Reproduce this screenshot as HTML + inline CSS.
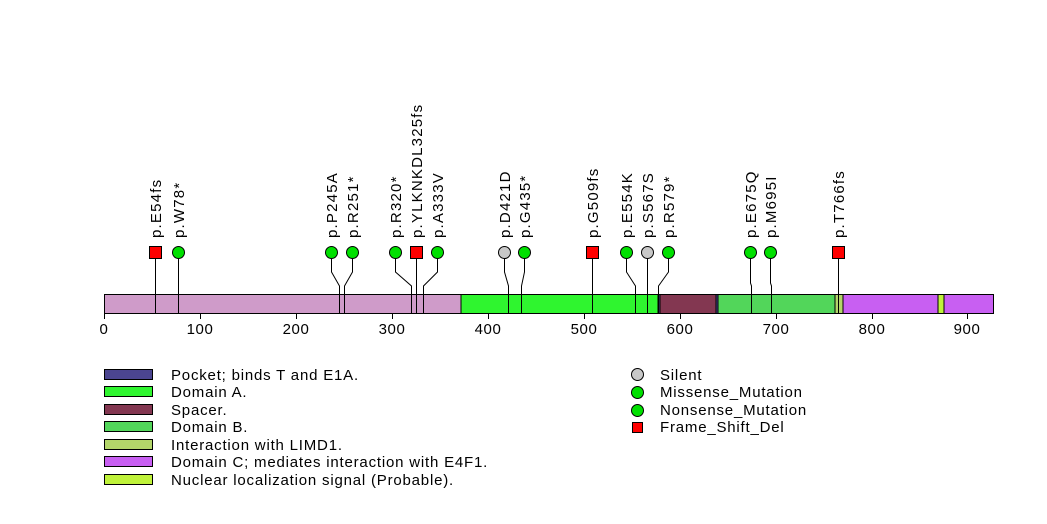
<!DOCTYPE html>
<html><head><meta charset="utf-8"><style>body{margin:0;background:#fff}svg{display:block}text{font-family:"Liberation Sans",sans-serif;fill:#000}</style></head><body>
<svg width="1047" height="524" viewBox="0 0 1047 524" xmlns="http://www.w3.org/2000/svg">
<g stroke="#000" stroke-width="1">
<rect x="104.5" y="294.5" width="889" height="19" fill="#cf9bc9"/>
<rect x="461" y="294.5" width="197" height="19" fill="#2ff52f"/>
<rect x="658" y="294.5" width="2" height="19" fill="#4b4590"/>
<rect x="660" y="294.5" width="56" height="19" fill="#833751"/>
<rect x="716" y="294.5" width="2" height="19" fill="#4b4590"/>
<rect x="718" y="294.5" width="117" height="19" fill="#52d65a"/>
<rect x="835" y="294.5" width="8" height="19" fill="#b3d66a"/>
<rect x="843" y="294.5" width="95" height="19" fill="#c85ff2"/>
<rect x="938" y="294.5" width="6" height="19" fill="#bff23a"/>
<rect x="944" y="294.5" width="49.5" height="19" fill="#c85ff2"/>
</g>
<g stroke="#000" fill="none">
<path d="M104.5 313V319M200.5 313V319M296.5 313V319M392.5 313V319M488.5 313V319M584.5 313V319M680.5 313V319M776.5 313V319M872.5 313V319M967.5 313V319"/>
<path d="M155.5 252V313M178.5 252V313M331.5 252V272L339.5 286V313M352.5 252V272L344.5 286V313M395.5 252V272L411.5 286V313M416.5 252V313M437.5 252V272L423.5 286V313M504.5 252V272L508.5 286V313M524.5 252V272L521.5 286V313M592.5 252V313M626.5 252V272L635.5 286V313M647.5 252V313M668.5 252V272L658.5 286V313M750.5 252V283L751.5 286V313M770.5 252V283L771.5 286V313M838.5 252V313"/>
</g>
<g font-size="15" text-anchor="middle" letter-spacing="0.6">
<text x="104" y="334">0</text><text x="200" y="334">100</text><text x="296" y="334">200</text><text x="392" y="334">300</text><text x="488" y="334">400</text><text x="584" y="334">500</text><text x="680" y="334">600</text><text x="776" y="334">700</text><text x="872" y="334">800</text><text x="967" y="334">900</text>
</g>
<g stroke="#000">
<rect x="149.5" y="246.5" width="12" height="12" fill="#f00"/>
<rect x="410.5" y="246.5" width="12" height="12" fill="#f00"/>
<rect x="586.5" y="246.5" width="12" height="12" fill="#f00"/>
<rect x="832.5" y="246.5" width="12" height="12" fill="#f00"/>
<g fill="#00e000"><circle cx="178.5" cy="252.5" r="6"/><circle cx="331.5" cy="252.5" r="6"/><circle cx="352.5" cy="252.5" r="6"/><circle cx="395.5" cy="252.5" r="6"/><circle cx="437.5" cy="252.5" r="6"/><circle cx="524.5" cy="252.5" r="6"/><circle cx="626.5" cy="252.5" r="6"/><circle cx="668.5" cy="252.5" r="6"/><circle cx="750.5" cy="252.5" r="6"/><circle cx="770.5" cy="252.5" r="6"/></g>
<g fill="#c8c8c8"><circle cx="504.5" cy="252.5" r="6"/><circle cx="647.5" cy="252.5" r="6"/></g>
</g>
<g font-size="15" letter-spacing="1.2">
<text transform="translate(161,238) rotate(-90)">p.E54fs</text>
<text transform="translate(184,238) rotate(-90)">p.W78*</text>
<text transform="translate(337,238) rotate(-90)">p.P245A</text>
<text transform="translate(358,238) rotate(-90)">p.R251*</text>
<text transform="translate(401,238) rotate(-90)">p.R320*</text>
<text transform="translate(422,238) rotate(-90)">p.YLKNKDL325fs</text>
<text transform="translate(443,238) rotate(-90)">p.A333V</text>
<text transform="translate(510,238) rotate(-90)">p.D421D</text>
<text transform="translate(530,238) rotate(-90)">p.G435*</text>
<text transform="translate(598,238) rotate(-90)">p.G509fs</text>
<text transform="translate(632,238) rotate(-90)">p.E554K</text>
<text transform="translate(653,238) rotate(-90)">p.S567S</text>
<text transform="translate(674,238) rotate(-90)">p.R579*</text>
<text transform="translate(756,238) rotate(-90)">p.E675Q</text>
<text transform="translate(776,238) rotate(-90)">p.M695I</text>
<text transform="translate(844,238) rotate(-90)">p.T766fs</text>
</g>
<g stroke="#000">
<rect x="104.5" y="369.5" width="48" height="10" fill="#4b4590"/>
<rect x="104.5" y="386.5" width="48" height="10" fill="#2ff52f"/>
<rect x="104.5" y="404.5" width="48" height="10" fill="#833751"/>
<rect x="104.5" y="421.5" width="48" height="10" fill="#52d65a"/>
<rect x="104.5" y="439.5" width="48" height="10" fill="#b3d66a"/>
<rect x="104.5" y="456.5" width="48" height="10" fill="#c85ff2"/>
<rect x="104.5" y="474.5" width="48" height="10" fill="#bff23a"/>
<circle cx="637.5" cy="374.5" r="6" fill="#c8c8c8"/>
<circle cx="637.5" cy="392.5" r="6" fill="#00e000"/>
<circle cx="637.5" cy="410.5" r="6" fill="#00e000"/>
<rect x="632.5" y="422.5" width="10" height="10" fill="#f00"/>
</g>
<g font-size="15" letter-spacing="0.8">
<text x="171" y="380">Pocket; binds T and E1A.</text>
<text x="171" y="397">Domain A.</text>
<text x="171" y="415">Spacer.</text>
<text x="171" y="432">Domain B.</text>
<text x="171" y="450">Interaction with LIMD1.</text>
<text x="171" y="467">Domain C; mediates interaction with E4F1.</text>
<text x="171" y="485">Nuclear localization signal (Probable).</text>
<text x="660" y="380">Silent</text>
<text x="660" y="397">Missense_Mutation</text>
<text x="660" y="415">Nonsense_Mutation</text>
<text x="660" y="432">Frame_Shift_Del</text>
</g>
</svg>
</body></html>
